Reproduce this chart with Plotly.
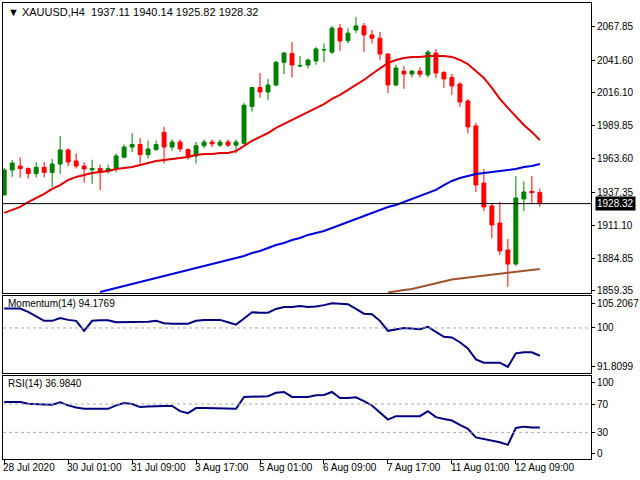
import plotly.graph_objects as go

opens = [1935.2,1954.9,1958,1956,1952,1957,1953,1959.6,1970.7,1962,1958,1955,1956,1954,1956,1965,1973,1975,1967,1971,1984.7,1973,1977,1971,1966,1974,1977,1974.5,1977,1974.5,
         1976,2005,2020,2016.5,2022,2040,2047,2037,2037.8,2041,2049.7,2048,2067,2057,2065.5,2068.7,2061.6,2059,2046.5,2022,2033,2030.7,2033,2030,2047.3,2032,2028,2022.8,2009.4,1989.7,
         1944.6,1926.5,1913,1891.7,1880.6,1932,1938,1937.11]
highs = [1956.5,1962.8,1965,1957,1961,1961,1963.6,1981.8,1972,1968,1961,1963,1959,1959,1968,1975,1984,1980,1978,1978,1989,1979,1979,1972,1977,1979,1979,1979,1979,1979,
         2008,2020.5,2031.5,2026.8,2041,2048,2056,2045,2043,2052,2055,2068.7,2070.2,2067,2075.8,2071,2065.5,2064,2047.3,2038,2037,2034,2036,2049.7,2050.5,2033,2030.7,2024.4,2011,1992,
         1955.7,1928.8,1929.6,1900.4,1950,1946,1950,1940.14]
lows = [1935,1949.4,1949,1948,1949,1949,1941.5,1951.7,1958,1956,1945,1944,1939,1952,1953,1964,1969,1960,1964,1970,1960,1970,1969,1963,1960,1972,1973,1973,1973,1968,
        1975,2001,2012,2010,2021,2030.7,2028,2036,2035,2038,2040,2046.5,2048.9,2055,2063,2048,2055,2041.8,2015.7,2021,2019,2028,2028,2028,2027.6,2019.7,2014,2004.7,1984,1937.5,
        1922.5,1901,1887.8,1862.5,1879,1922.5,1928,1925.82]
closes = [1954.9,1960.4,1956,1952,1957,1953,1959.6,1970.7,1961.2,1958,1955.7,1956,1953,1956,1966,1973,1975,1967,1971.5,1975,1973,1977,1971.5,1965,1974,1977,1975.5,1977,1974.5,1977,
          2006,2020,2016.5,2022,2040,2047.3,2037.8,2037.5,2041.8,2050.5,2050,2067,2056.8,2063,2068.7,2061.6,2059,2046.5,2022,2035.5,2030.7,2033,2030.5,2048,2031.5,2026.8,2021.3,2008.6,1988.9,1943,
          1925.7,1911.4,1890.9,1880.6,1932.8,1937.5,1937,1928.32]

ma_red = [1921,1923.3,1925.7,1929.6,1932.8,1936,1939.9,1943,1947,1949.4,1951,1952.5,1953.3,1954.1,1955.7,1956.5,1957.3,1958.8,1960.4,1962,1962.8,1963.6,1964.4,1965.2,1966.8,1967.5,1967.5,1968.3,1968.3,1969.9,
          1973.9,1977.8,1981,1984.1,1988.1,1991.2,1994.4,1997.6,2000.7,2003.9,2007,2011,2014.2,2018.1,2022,2026,2030.7,2034.7,2039.4,2041.8,2043.4,2044.2,2044.2,2045,2045,2045,2044.2,2041.8,2038.6,2033.1,
          2027.6,2019.7,2011,2003.9,1996.8,1990.5,1984.9,1978.6]
ma_blue = [None]*12 + [1858.5,1860.1,1861.7,1863.3,1864.8,1866.4,1868,1869.6,1871.2,1872.7,1874.3,1875.9,1877.5,1879.1,1880.6,1882.2,1883.8,1885.4,
          1887,1889.3,1890.9,1893.3,1895.6,1897.2,1899.6,1901.2,1903.6,1905.1,1906.7,1909.1,1911.4,1913.8,1916.2,1918.6,1920.9,1923.3,1925.7,1927.2,1929.6,1932,1934.4,1936.7,1939.1,1943,1946.2,1948.6,1950.2,1951.7,
          1952.5,1953.3,1954.1,1954.9,1955.7,1957.3,1958,1959.6]
ma_brown = [None]*48 + [1858.1,1859.3,1860.1,1860.9,1862.5,1864,1865.6,1867.2,1868.4,1869.2,1870,1870.8,1871.6,1872.3,1873.1,1873.9,1874.7,1875.5,1875.9,1876.7]

momentum = [104.09,104.09,104.09,103.4,102.4,101.5,101.5,102.1,101.7,101.5,99.4,101.5,101.6,101.6,101.2,101.2,101.3,101.3,101.3,101.5,101.0,100.9,100.9,100.9,101.5,101.7,101.7,101.7,101.2,100.7,
            102.0,103.3,103.2,103.2,104.0,104.4,104.4,104.6,104.4,104.5,104.8,105.2,105.1,105.0,104.0,103.0,102.9,101.5,99.4,99.7,99.97,99.9,99.76,100.25,99.2,98.16,98.02,97.0,95.7,93.42,
            92.72,92.72,92.72,91.81,94.67,94.88,94.88,94.18]
rsi = [72.9,72.9,72.9,70.5,70.5,69.5,69.1,72.4,68.1,65,63.3,63.3,63.3,63.3,68.1,71.4,70,65.7,66.5,67.2,67.2,67.2,60,57.2,64.3,64.3,64.3,64.3,63.3,63.3,
       80,80.5,81,81,86,87.1,80,80,80,82.4,82.9,87.1,78.6,78.6,79.5,74,68,58,48.1,52.9,52.9,52.9,52.9,60,51.5,49,46.7,40.5,35,22.9,
       20.5,18.1,16,12.4,36.2,38.1,37,36.98]

x_idx = list(range(len(closes)))
time_labels = ["28 Jul 2020","30 Jul 01:00","31 Jul 09:00","3 Aug 17:00","5 Aug 01:00","6 Aug 09:00","7 Aug 17:00","11 Aug 01:00","12 Aug 09:00"]
time_pos = [0,8,16,24,32,40,48,56,64]
price_ticks = [2067.85,2041.60,2016.10,1989.85,1963.60,1937.35,1911.10,1884.85,1859.35]
mom_ticks = [105.2067,100,91.8099]
rsi_ticks = [100,70,30,0]
last_price = 1928.32

FONT = "Liberation Sans"
fig = go.Figure()
fig.add_trace(go.Candlestick(x=x_idx, open=opens, high=highs, low=lows, close=closes,
    increasing=dict(line=dict(color="#008000", width=1), fillcolor="#008000"),
    decreasing=dict(line=dict(color="#ff0000", width=1), fillcolor="#ff0000"),
    whiskerwidth=0, xaxis="x", yaxis="y"))
fig.add_trace(go.Scatter(x=x_idx, y=ma_red, mode="lines", line=dict(color="#e00000", width=2), xaxis="x", yaxis="y"))
fig.add_trace(go.Scatter(x=x_idx, y=ma_blue, mode="lines", line=dict(color="#0000dd", width=2), xaxis="x", yaxis="y"))
fig.add_trace(go.Scatter(x=x_idx, y=ma_brown, mode="lines", line=dict(color="#a0522d", width=2), xaxis="x", yaxis="y"))
fig.add_trace(go.Scatter(x=x_idx, y=momentum, mode="lines", line=dict(color="#000080", width=2), xaxis="x2", yaxis="y2"))
fig.add_trace(go.Scatter(x=x_idx, y=rsi, mode="lines", line=dict(color="#000080", width=2), xaxis="x3", yaxis="y3"))

xr = [-0.15, 73.4]
xcommon = dict(range=xr, showgrid=False, zeroline=False, showline=True, mirror=True, linecolor="black", linewidth=1, automargin=False)
yc = dict(side="right", showgrid=False, zeroline=False, showline=True, mirror=True, linecolor="black", linewidth=1, automargin=False,
          ticks="outside", ticklen=3, tickcolor="black", tickfont=dict(family=FONT, size=10, color="black"))

fig.update_layout(
    width=640, height=480, margin=dict(l=3, r=49, t=3, b=21, autoexpand=False),
    paper_bgcolor="white", plot_bgcolor="white", showlegend=False,
    xaxis=dict(**xcommon, domain=[0,1], anchor="y", showticklabels=False, rangeslider=dict(visible=False)),
    xaxis2=dict(**xcommon, domain=[0,1], anchor="y2", showticklabels=False, matches="x"),
    xaxis3=dict(**xcommon, domain=[0,1], anchor="y3", matches="x", tickvals=time_pos, ticktext=[""]*len(time_pos),
                ticks="outside", ticklen=4, tickcolor="black"),
    yaxis=dict(**yc, domain=[0.364,1], range=[1857.7, 2086.8], tickvals=price_ticks, ticktext=[f"{v:.2f}" for v in price_ticks]),
    yaxis2=dict(**yc, domain=[0.1886,0.357], range=[90.55, 106.67], tickvals=mom_ticks, ticktext=["105.2067","100","91.8099"]),
    yaxis3=dict(**yc, domain=[0,0.182], range=[-7.6, 109.6], tickvals=rsi_ticks, ticktext=[str(v) for v in rsi_ticks]),
)
fig.add_shape(type="line", xref="x", yref="y", x0=xr[0], x1=xr[1], y0=last_price, y1=last_price, line=dict(color="black", width=1))
fig.add_shape(type="line", xref="x2", yref="y2", x0=xr[0], x1=xr[1], y0=100, y1=100, line=dict(color="#aaaaaa", width=1, dash="dot"))
for lv in (70, 30):
    fig.add_shape(type="line", xref="x3", yref="y3", x0=xr[0], x1=xr[1], y0=lv, y1=lv, line=dict(color="#aaaaaa", width=1, dash="dot"))
fig.add_annotation(xref="paper", yref="y", x=1.0, y=last_price, xanchor="left", yanchor="middle", text=f"{last_price:.2f}",
                   showarrow=False, bgcolor="black", font=dict(family=FONT, size=10, color="white"), xshift=4, borderpad=1)
fig.add_annotation(xref="paper", yref="paper", x=0.005, y=1.0, xanchor="left", yanchor="top",
                   text=f"▼ XAUUSD,H4  {opens[-1]:.2f} {highs[-1]:.2f} {lows[-1]:.2f} {closes[-1]:.2f}",
                   showarrow=False, font=dict(family=FONT, size=11, color="black"), yshift=-1)
fig.add_annotation(xref="paper", yref="paper", x=0.005, y=0.357, xanchor="left", yanchor="top",
                   text="Momentum(14) 94.1769", showarrow=False, font=dict(family=FONT, size=10, color="black"))
fig.add_annotation(xref="paper", yref="paper", x=0.005, y=0.182, xanchor="left", yanchor="top",
                   text="RSI(14) 36.9840", showarrow=False, font=dict(family=FONT, size=10, color="black"))
for p, t in zip(time_pos, time_labels):
    fig.add_annotation(xref="x3", yref="paper", x=p, y=0, xanchor="left", yanchor="top", text=t,
                       showarrow=False, font=dict(family=FONT, size=10, color="black"), yshift=-1, xshift=-3)
fig.write_html("out.html", config={"displayModeBar": False},
               post_script="document.body.style.margin='0';document.body.style.overflow='hidden';")
